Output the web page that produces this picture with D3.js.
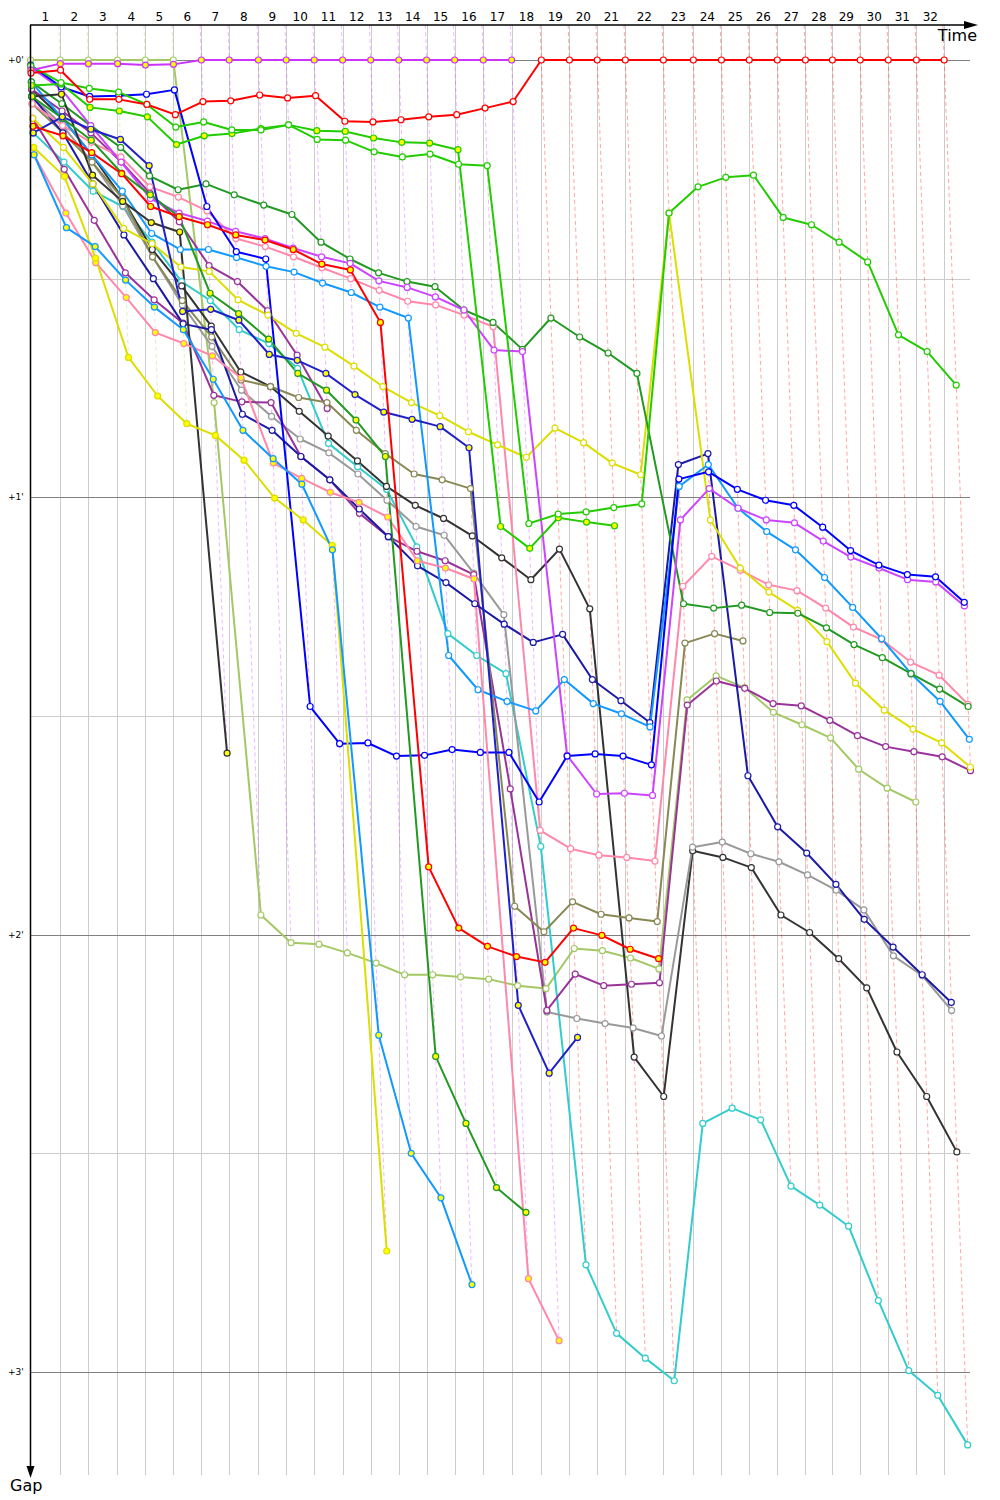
<!DOCTYPE html>
<html>
<head>
<meta charset="utf-8">
<script src="https://cdn.jsdelivr.net/npm/d3@7"></script>
<style>
  body { margin: 0; background: #fff; }
  text { font-family: "DejaVu Sans", Tahoma, sans-serif; }
</style>
</head>
<body>
<div id="chart"></div>
<script>
// leader time (s) at the end of each lap, lap 0 = start
var leaderTimes = [0, 110, 214, 322, 425, 529, 633, 736, 844, 947, 1051, 1156, 1260, 1364, 1467, 1571,
  1677, 1782, 1892, 1996, 2099, 2203, 2344, 2455, 2559, 2662, 2766, 2870, 2970, 3073, 3177, 3281, 3384];
var lapLabels = d3.range(1, 33);
var gapTicks = [0, 60, 120, 180];
var gapTickLabels = ["+0'", "+1'", "+2'", "+3'"];

// gap to leader (s) per lap, starting at lap 0
var redGaps = [1.8, 1.4, 5.4, 5.4, 6.1, 7.5, 5.7, 5.6, 4.8, 5.2, 4.9, 8.4, 8.5, 8.2, 7.8, 7.5, 6.6, 5.7, 0, 0, 0, 0, 0, 0, 0, 0, 0, 0, 0, 0, 0, 0, 0];
var violetLeadGaps = [1.4, 0.5, 0.5, 0.5, 0.7, 0.6, 0, 0, 0, 0, 0, 0, 0, 0, 0, 0, 0, 0];
var lightGreenGaps = [0, 0, 0, 0, 0, 0, 47.0, 117.3, 121.1, 121.3, 122.5, 123.9, 125.5, 125.5, 125.8, 126.1, 127.0, 127.4, 121.9, 122.2, 123.2, 124.7, 87.8, 84.5, 86.1, 89.5, 91.2, 93.0, 97.3, 99.9, 101.8];
var greenAGaps = [3.5, 3.3, 6.5, 7.0, 7.8, 11.6, 10.4, 10.1, 9.4, 8.9, 9.7, 9.8, 10.7, 11.3, 11.4, 12.3, 64.0, 67.0, 62.8, 63.4, 63.9];
var greenBGaps = [0.8, 3.1, 3.9, 4.4, 6.1, 9.2, 8.5, 9.6, 9.6, 8.9, 10.9, 11.0, 12.6, 13.3, 12.9, 14.3, 14.5, 63.6, 62.3, 62.0, 61.4, 60.9, 21.0, 17.4, 16.1, 15.8, 21.6, 22.6, 25.0, 27.7, 37.7, 40.0, 44.6];
var darkGreenAGaps = [3, 6, 9, 12, 15.9, 17.8, 17.0, 18.5, 19.9, 21.2, 25.0, 27.3, 29.2, 30.4, 31.1, 34.3, 36.0, 39.7, 35.4, 38.0, 40.2, 43.0, 74.6, 75.2, 74.8, 75.8, 75.9, 77.9, 80.2, 82.0, 84.2, 86.3, 88.7];
var darkGreenBGaps = [5, 8, 11, 15.5, 18.5, 21.5, 32.0, 34.8, 38.3, 43.0, 45.3, 49.4, 54.4, 136.7, 145.9, 154.7, 158.1];
var yellowAGaps = [8, 12, 17, 23.1, 25.2, 28.4, 29.0, 32.9, 35.0, 37.5, 39.4, 42.0, 44.8, 47.0, 48.8, 51.0, 52.8, 54.5, 50.5, 52.5, 55.3, 56.9, 21.0, 63.1, 69.7, 73.0, 75.5, 79.8, 85.5, 89.2, 91.8, 93.7, 97.0];
var yellowBGaps = [12, 16.0, 27.2, 40.8, 46.1, 49.9, 51.5, 54.9, 60.1, 63.1, 66.6, 163.4];
var skyAGaps = [3, 8, 13, 18, 23.8, 26.0, 26.0, 27.1, 28.3, 29.1, 30.6, 31.9, 33.9, 35.4, 81.7, 86.4, 88.0, 89.3, 85.0, 88.3, 89.7, 91.5, 58.5, 55.5, 61.5, 64.7, 67.2, 71.0, 75.1, 79.4, 84.2, 88.0, 93.2];
var skyBGaps = [13, 23.0, 25.6, 30.2, 33.9, 37.0, 43.8, 50.8, 54.7, 58.2, 67.2, 133.8, 150.0, 156.1, 168.0];
var cyanGaps = [10, 14, 18, 20.1, 25, 30.4, 33, 37.0, 38.9, 42.3, 52.6, 55.8, 58.9, 66.8, 78.7, 81.7, 84.2, 107.9, 165.3, 174.7, 178.1, 181.2, 145.9, 143.8, 145.4, 154.5, 157.1, 160.0, 170.2, 179.8, 183.2, 190.0];
var blueGaps = [0.7, 3.7, 5.0, 4.9, 4.7, 4.1, 20.1, 26.3, 27.3, 88.7, 93.8, 93.7, 95.5, 95.4, 94.6, 95.0, 95.0, 101.8, 95.5, 95.2, 95.5, 96.7, 57.5, 56.5, 58.9, 60.4, 61.1, 64.1, 67.3, 69.3, 70.6, 70.9, 74.4];
var navyGaps = [5, 10, 17, 24, 30, 36.2, 37.0, 48.6, 50.8, 54.4, 57.6, 61.6, 65.4, 69.4, 71.7, 74.6, 77.4, 79.9, 78.8, 85.0, 87.9, 90.9, 55.5, 54.0, 98.2, 105.2, 108.8, 113.1, 117.9, 121.7, 125.5, 129.3];
var navyBGaps = [10, 7.8, 9.5, 10.9, 14.5, 34.5, 34.2, 35.7, 40.4, 41.2, 43.0, 45.9, 48.3, 49.3, 50.3, 53.2, 129.7, 139.0, 134.1];
var violetGaps = [1, 4, 9, 14, 19, 21, 22.1, 23.5, 24.5, 25.8, 27.0, 27.9, 30.3, 31.2, 32.5, 34.3, 39.8, 40.0, 95.4, 100.7, 100.6, 100.9, 63.1, 58.8, 61.5, 63.1, 63.5, 66.0, 68.2, 69.7, 71.3, 71.6, 74.9];
var pinkAGaps = [6, 9, 11.3, 13.3, 17.4, 18.8, 20.7, 24.5, 25.6, 27, 28.5, 30.0, 31.6, 33.1, 33.6, 35.0, 36.6, 105.7, 108.2, 109.1, 109.4, 109.9, 72.2, 68.1, 70, 72.0, 72.8, 75.2, 77.8, 79.5, 82.6, 84.4, 88.4];
var pinkBGaps = [13, 21, 27.8, 32.6, 37.4, 38.9, 40.6, 43.6, 55.3, 57.4, 59.3, 60.7, 62.7, 68.7, 69.7, 71.2, 167.2, 175.7];
var redBGaps = [9.1, 10.4, 12.7, 15.6, 20.1, 21.5, 22.6, 24.0, 24.7, 26.0, 28.0, 28.8, 36.0, 110.7, 119.1, 121.6, 123.0, 123.8, 119.1, 120.1, 122.0, 123.3];
var oliveGaps = [6, 10, 14, 19, 27, 33, 38, 43.9, 44.8, 46.3, 47.0, 50.8, 54.0, 56.8, 57.6, 58.8, 116.1, 119.6, 115.5, 117.2, 117.7, 118.2, 80.0, 78.7, 79.7];
var greyGaps = [5, 9, 14, 20, 27, 33.6, 39.3, 45.3, 48.9, 52.0, 53.9, 56.8, 60.4, 64.0, 65.2, 70.4, 76.1, 130.6, 131.5, 132.2, 132.8, 133.9, 108.0, 107.3, 108.9, 110.0, 111.8, 113.9, 116.6, 122.9, 125.6, 130.4];
var blackAGaps = [4, 8, 13, 19, 26, 31, 36.5, 42.8, 44.8, 48.2, 51.6, 55, 58.5, 61.1, 62.9, 65.3, 68.3, 71.3, 67.1, 75.3, 136.8, 142.2, 108.5, 109.4, 110.8, 117.3, 119.7, 123.3, 127.3, 136.1, 142.2, 149.8];
var blackBGaps = [5, 4.7, 15.8, 19.4, 22.3, 23.6, 95.1];
var purpleGaps = [8, 15, 22, 29.2, 32.9, 36.1, 46.0, 46.9, 47.0, 54.4, 57.6, 62.2, 65.4, 67.4, 68.7, 70.6, 100, 130.4, 125.4, 127.0, 126.8, 126.6, 88.5, 85.2, 86.2, 88.3, 88.6, 90.6, 92.7, 94.2, 94.9, 95.6, 97.5];
var purpleBGaps = [4, 7, 10, 14, 18.3, 22.2, 28.2, 30.4, 34.4, 40.5, 47.8];

// cars that retired get yellow markers
var retired = ["violetLead", "greenA", "darkGreenB", "yellowB", "skyB", "navyB", "pinkB", "redB", "blackB"];

var colors = {
  red: "#ff0000", violetLead: "#cc33ff", lightGreen: "#a4c864", greenA: "#22cc00", greenB: "#22cc00",
  darkGreenA: "#229922", darkGreenB: "#229922", yellowA: "#dddd00", yellowB: "#dddd00",
  skyA: "#1199ff", skyB: "#1199ff", cyan: "#33cccc", blue: "#0000ff", navy: "#1a1aa6", navyB: "#2020c8",
  violet: "#cc44ff", pinkA: "#ff88aa", pinkB: "#ff88aa", redB: "#ff0000", olive: "#888855",
  grey: "#999999", blackA: "#333333", blackB: "#333333", purple: "#993399", purpleB: "#993399"
};

var series = [
  ["lightGreen", lightGreenGaps], ["cyan", cyanGaps], ["blackA", blackAGaps], ["grey", greyGaps],
  ["purple", purpleGaps], ["purpleB", purpleBGaps], ["olive", oliveGaps], ["navy", navyGaps], ["pinkA", pinkAGaps],
  ["yellowA", yellowAGaps], ["skyA", skyAGaps], ["darkGreenA", darkGreenAGaps], ["violet", violetGaps],
  ["blue", blueGaps], ["blackB", blackBGaps], ["pinkB", pinkBGaps], ["yellowB", yellowBGaps],
  ["skyB", skyBGaps], ["darkGreenB", darkGreenBGaps], ["navyB", navyBGaps], ["redB", redBGaps],
  ["greenA", greenAGaps], ["greenB", greenBGaps], ["violetLead", violetLeadGaps], ["red", redGaps]
].map(function(s) {
  return {
    key: s[0],
    points: s[1].map(function(g, lap) { return {lap: lap, gap: g, time: leaderTimes[lap] + g}; })
  };
});

var width = 1000, height = 1500;
var x = d3.scaleLinear().domain([0, 3500]).range([30.5, 975.5]);
var y = d3.scaleLinear().domain([0, 180]).range([60, 1372]);
var plotTop = 25, plotBottom = 1475, plotRight = 970;

var svg = d3.select("#chart").append("svg")
  .attr("width", width)
  .attr("height", height);

// lap lines
svg.selectAll("line.lap")
  .data(leaderTimes.slice(1))
  .enter().append("line")
  .attr("x1", function(d) { return Math.round(x(d)) + 0.5; })
  .attr("x2", function(d) { return Math.round(x(d)) + 0.5; })
  .attr("y1", plotTop).attr("y2", plotBottom)
  .attr("stroke", "#cccccc").attr("stroke-width", 1);

// gap grid, full minutes darker
d3.range(0, 181, 30).forEach(function(g) {
  svg.append("line")
    .attr("x1", 30.5).attr("x2", plotRight)
    .attr("y1", Math.round(y(g)) + 0.5).attr("y2", Math.round(y(g)) + 0.5)
    .attr("stroke", g % 60 == 0 ? "#808080" : "#cccccc").attr("stroke-width", 1);
});

// lap isochrones, coloured after the leader of that lap
var topGap = y.invert(plotTop);
for (var lap = 1; lap < leaderTimes.length; lap++) {
  var maxGap = 0, leader = null;
  series.forEach(function(s) {
    var p = s.points[lap];
    if (!p) return;
    if (p.gap > maxGap) maxGap = p.gap;
    if (p.gap == 0) leader = s.key;
  });
  svg.append("line")
    .attr("x1", x(leaderTimes[lap] + topGap)).attr("y1", plotTop)
    .attr("x2", x(leaderTimes[lap] + maxGap)).attr("y2", y(maxGap))
    .attr("stroke", colors[leader])
    .attr("stroke-opacity", 0.35)
    .attr("stroke-dasharray", "4,3")
    .attr("stroke-width", 1);
}

var line = d3.line()
  .x(function(d) { return x(d.time); })
  .y(function(d) { return y(d.gap); });

series.forEach(function(s) {
  svg.append("path")
    .attr("d", line(s.points))
    .attr("fill", "none")
    .attr("stroke", colors[s.key])
    .attr("stroke-width", 2)
    .attr("stroke-linejoin", "round");
});

series.forEach(function(s) {
  svg.selectAll(null)
    .data(s.points)
    .enter().append("circle")
    .attr("cx", function(d) { return x(d.time); })
    .attr("cy", function(d) { return y(d.gap); })
    .attr("r", 3)
    .attr("fill", retired.indexOf(s.key) >= 0 ? "#ffff00" : "#ffffff")
    .attr("stroke", colors[s.key])
    .attr("stroke-width", 1.2);
});

// axes
svg.append("line").attr("x1", 30.5).attr("x2", 30.5).attr("y1", plotTop).attr("y2", 1470)
  .attr("stroke", "#000").attr("stroke-width", 1.5);
svg.append("path").attr("d", "M26.5,1466L34.5,1466L30.5,1478Z").attr("fill", "#000");
svg.append("line").attr("x1", 30).attr("x2", 968).attr("y1", plotTop).attr("y2", plotTop)
  .attr("stroke", "#000").attr("stroke-width", 1.5);
svg.append("path").attr("d", "M964,21L964,29L978,25Z").attr("fill", "#000");

svg.append("text").attr("x", 977).attr("y", 41).attr("text-anchor", "end")
  .style("font-size", "16px").text("Time");
svg.append("text").attr("x", 10).attr("y", 1491)
  .style("font-size", "16px").text("Gap");

svg.selectAll("text.lap")
  .data(lapLabels)
  .enter().append("text")
  .attr("x", function(d) { return (x(leaderTimes[d - 1]) + x(leaderTimes[d])) / 2; })
  .attr("y", 21)
  .attr("text-anchor", "middle")
  .style("font-size", "12px")
  .text(function(d) { return d; });

svg.selectAll("text.gap")
  .data(gapTicks)
  .enter().append("text")
  .attr("x", 8)
  .attr("y", function(d) { return y(d) + 3; })
  .style("font-size", "9px")
  .text(function(d, i) { return gapTickLabels[i]; });
</script>
</body>
</html>
